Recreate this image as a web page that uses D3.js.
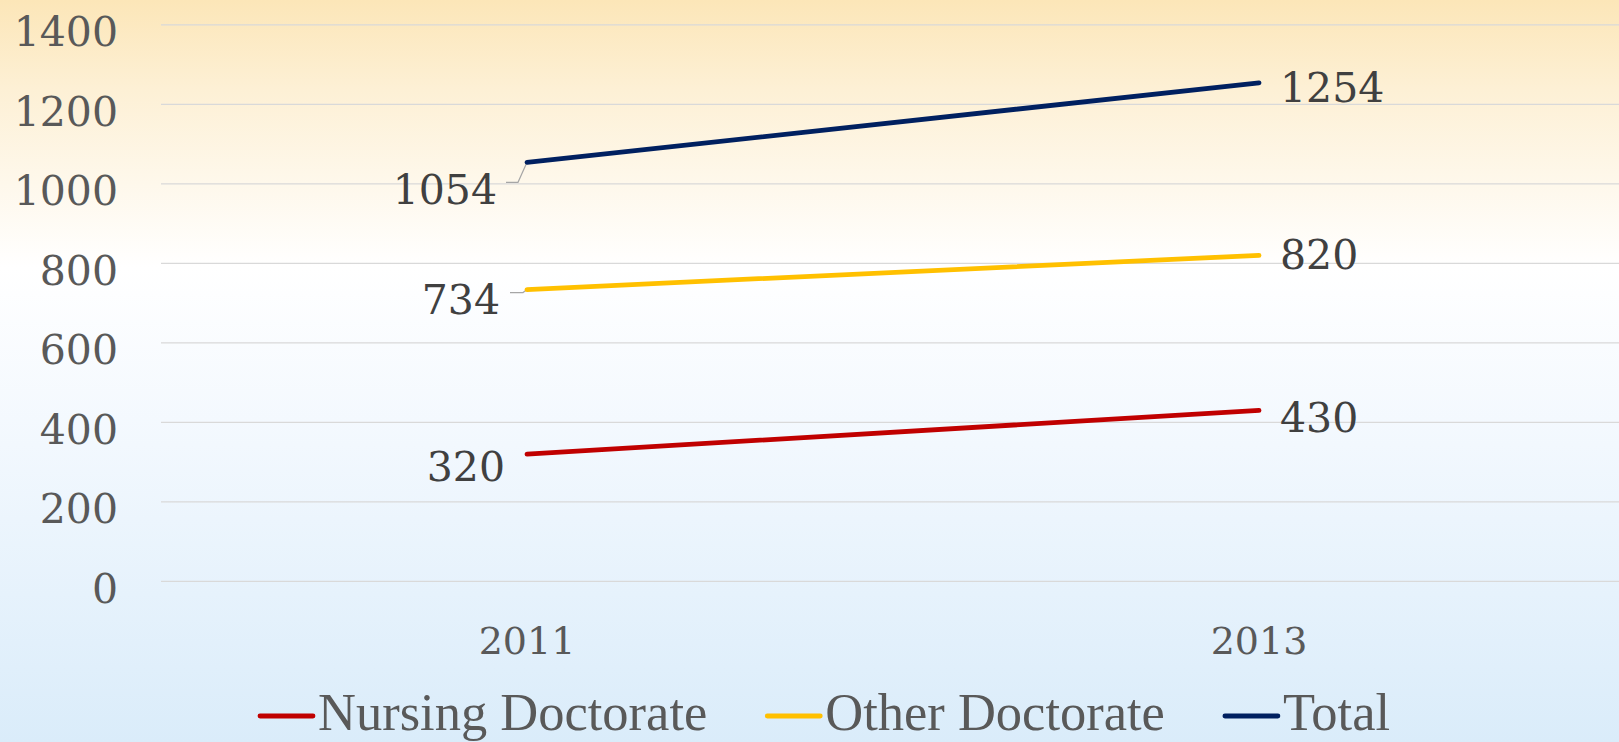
<!DOCTYPE html>
<html>
<head>
<meta charset="utf-8">
<script src="https://cdn.jsdelivr.net/npm/d3@7/dist/d3.min.js"></script>
<style>
  html, body { margin: 0; padding: 0; overflow: hidden; }
  svg { display: block; }
</style>
</head>
<body>
<svg id="chart" width="1619" height="742"></svg>
<script>
// ---- data ----
const categories = ["2011", "2013"];
const seriesNames = ["Nursing Doctorate", "Other Doctorate", "Total"];
const nursingDoctorate = [320, 430];
const otherDoctorate = [734, 820];
const total = [1054, 1254];
const yTicks = [0, 200, 400, 600, 800, 1000, 1200, 1400];

// ---- styles / layout ----
const colors = ["#C00000", "#FFC000", "#002060"];
const W = 1619, H = 742;
const margin = { left: 161, right: 1625, top: 24.8, bottom: 581.3 };
// label offsets per series per point [dx, dy(baseline), anchor]
const labelOffsets = [
  [[-22, 27, "end"], [21, 22, "start"]],
  [[-27, 24, "end"], [21, 14, "start"]],
  [[-30, 42, "end"], [21, 19, "start"]]
];

const svg = d3.select("#chart");
const defs = svg.append("defs");
const grad = defs.append("linearGradient").attr("id", "bg")
  .attr("x1", 0).attr("y1", 0).attr("x2", 0).attr("y2", 1);
grad.append("stop").attr("offset", "0%").attr("stop-color", "#FCE6B8");
grad.append("stop").attr("offset", "12%").attr("stop-color", "#FDF0D5");
grad.append("stop").attr("offset", "36%").attr("stop-color", "#FFFFFF");
grad.append("stop").attr("offset", "60%").attr("stop-color", "#F2F8FE");
grad.append("stop").attr("offset", "100%").attr("stop-color", "#DAECFA");
svg.append("rect").attr("width", W).attr("height", H).attr("fill", "url(#bg)");

const x = d3.scaleBand().domain(categories).range([margin.left, margin.right]);
const xc = d => x(d) + x.bandwidth() / 2;
const y = d3.scaleLinear().domain([0, 1400]).range([margin.bottom, margin.top]);

// gridlines
svg.append("g").selectAll("line").data(yTicks).join("line")
  .attr("x1", margin.left).attr("x2", W)
  .attr("y1", d => y(d)).attr("y2", d => y(d))
  .attr("stroke", "#D9D9D9").attr("stroke-width", 1.3);

// y axis labels
const yAxis = d3.axisLeft(y).tickValues(yTicks).tickFormat(d3.format("d")).tickSize(0).tickPadding(0);
const gy = svg.append("g").attr("transform", "translate(118,0)").call(yAxis);
gy.select(".domain").remove();
gy.selectAll("text")
  .attr("font-family", "DejaVu Serif").attr("font-size", 41)
  .attr("fill", "#595959").attr("dy", "0.44em").attr("x", 0)
  .attr("transform", "translate(0,3)");

// x axis labels
const xAxis = d3.axisBottom(x).tickSize(0).tickPadding(0);
const gx = svg.append("g").attr("transform", "translate(0,654)").call(xAxis);
gx.select(".domain").remove();
gx.selectAll("text")
  .attr("font-family", "DejaVu Serif").attr("font-size", 38)
  .attr("fill", "#595959").attr("dy", 0).attr("y", 0);

const allSeries = [nursingDoctorate, otherDoctorate, total];
const line = d3.line().x((d, i) => xc(categories[i])).y(d => y(d));

// leader lines for 2011 labels of Other & Total
const leaders = [
  null,
  [[-17, 3], [-4, 3]],
  [[-21, 20], [-9, 20]]
];
allSeries.forEach((s, si) => {
  const L = leaders[si];
  if (!L) return;
  const px = xc(categories[0]), py = y(s[0]);
  const pts = [[px + L[0][0], py + L[0][1]], [px + L[1][0], py + L[1][1]], [px, py]];
  svg.append("path").attr("d", d3.line()(pts))
    .attr("fill", "none").attr("stroke", "#A6A6A6").attr("stroke-width", 1.2);
});

// series lines
allSeries.forEach((s, si) => {
  svg.append("path").datum(s).attr("d", line)
    .attr("fill", "none").attr("stroke", colors[si])
    .attr("stroke-width", 4.8).attr("stroke-linecap", "round");
});

// data labels
allSeries.forEach((s, si) => {
  svg.append("g").selectAll("text").data(s).join("text")
    .attr("x", (d, i) => xc(categories[i]) + labelOffsets[si][i][0])
    .attr("y", (d, i) => y(d) + labelOffsets[si][i][1])
    .attr("text-anchor", (d, i) => labelOffsets[si][i][2])
    .attr("font-family", "DejaVu Serif").attr("font-size", 41)
    .attr("fill", "#404040")
    .text(d => d);
});

// legend
const lg = svg.append("g");
let lx = 260;
seriesNames.forEach((name, i) => {
  lg.append("line").attr("x1", lx).attr("x2", lx + 53)
    .attr("y1", 716).attr("y2", 716)
    .attr("stroke", colors[i]).attr("stroke-width", 4.8).attr("stroke-linecap", "round");
  const t = lg.append("text").attr("x", lx + 58).attr("y", 729.5)
    .attr("font-family", "Liberation Serif").attr("font-size", 52.5)
    .attr("fill", "#595959").text(name);
  const w = t.node().getComputedTextLength();
  lx = lx + 58 + w + 60;
});
</script>
</body>
</html>
